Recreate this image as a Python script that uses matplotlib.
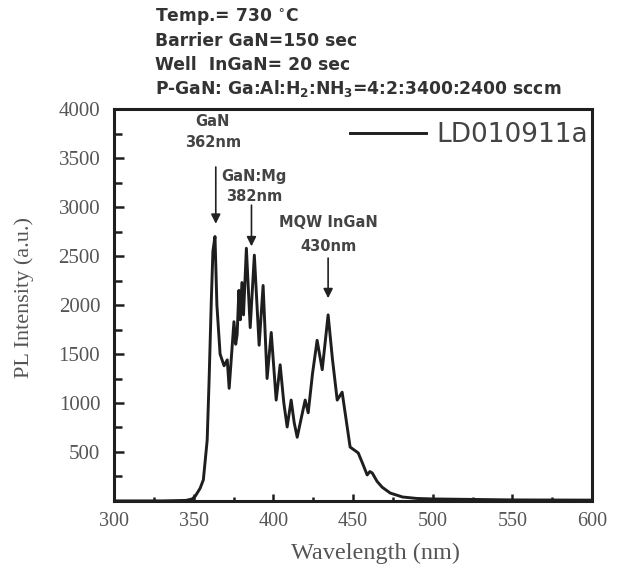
import matplotlib
matplotlib.use("Agg")
import matplotlib.pyplot as plt
from matplotlib.ticker import MultipleLocator, FixedLocator

# PL spectrum of sample LD010911a
wavelength = [300, 330, 345, 349, 351, 354, 356, 358.4, 359.6, 361, 362,
              363.3, 364.5, 366.5, 369, 371, 372.2, 374, 375.2, 376.3, 377.2,
              378.3, 379.2, 380.2, 381.2, 383, 385.4, 388, 391, 393.5,
              396, 398.6, 401.7, 404.2, 406.5, 408.6, 411.1, 413, 414.9,
              417.5, 419.9, 421.8, 424.5, 427.4, 430.6, 434.3, 437, 440,
              443.1, 448.1, 453.2, 456, 458.8, 460.5, 462, 465, 468.2,
              473.3, 481, 490, 500, 550, 600]
intensity = [0, 0, 5, 20, 50, 130, 215, 620, 1230, 2050, 2550,
             2700, 2000, 1500, 1380, 1440, 1150, 1560, 1830, 1600, 1700,
             2150, 1850, 2230, 1900, 2580, 1770, 2510, 1590, 2200,
             1250, 1720, 1030, 1390, 1000, 755, 1030, 800, 650,
             850, 1030, 900, 1300, 1640, 1340, 1900, 1450, 1030,
             1110, 550, 490, 380, 265, 300, 285, 200, 140,
             80, 40, 25, 20, 10, 8]

series_label = "LD010911a"
x_ticks = [300, 350, 400, 450, 500, 550, 600]
y_ticks = [500, 1000, 1500, 2000, 2500, 3000, 3500, 4000]

# Peak annotations: title, wavelength label, text x, title y, label y,
# peak pointed at, arrow start y, arrow tip y
peak_titles = ["GaN", "GaN:Mg", "MQW InGaN"]
peak_labels = ["362nm", "382nm", "430nm"]
text_x = [362, 388, 434.5]
title_y = [3870, 3310, 2840]
label_y = [3660, 3110, 2600]
peak_x = [363.8, 386.2, 434.3]
arrow_from = [3410, 3020, 2480]
arrow_to = [2830, 2600, 2070]

header_lines = [
    "Temp.= 730 $^{\\circ}$C",
    "Barrier GaN=150 sec",
    "Well  InGaN= 20 sec",
    "P-GaN: Ga:Al:H$_{\\mathbf{2}}$:NH$_{\\mathbf{3}}$=4:2:3400:2400 sccm",
]

plt.rcParams["mathtext.fontset"] = "custom"
plt.rcParams["mathtext.rm"] = "DejaVu Sans:bold"
plt.rcParams["mathtext.bf"] = "DejaVu Sans:bold"

fig = plt.figure(figsize=(6.34, 5.66), dpi=100)
ax = fig.add_axes([0.18, 0.115, 0.754, 0.692])

ax.plot(wavelength, intensity, color="#1e1e1e", lw=2.1, label=series_label,
        solid_joinstyle="round")

ax.set_xlim(300, 600)
ax.set_ylim(0, 4000)
ax.xaxis.set_major_locator(FixedLocator(x_ticks))
ax.xaxis.set_minor_locator(MultipleLocator(25))
ax.yaxis.set_major_locator(FixedLocator(y_ticks))
ax.yaxis.set_minor_locator(MultipleLocator(250))

serif = "Liberation Serif"
ax.set_xticklabels([str(v) for v in x_ticks], family=serif, fontsize=14.5, color="#555555")
ax.set_yticklabels([str(v) for v in y_ticks], family=serif, fontsize=15, color="#555555")
ax.tick_params(axis="both", which="both", direction="in", top=False, right=False,
               width=1.8, color="#1e1e1e")
ax.tick_params(axis="x", which="major", length=5, pad=8)
ax.tick_params(axis="x", which="minor", length=3)
ax.tick_params(axis="y", which="major", length=7, pad=10)
ax.tick_params(axis="y", which="minor", length=6)
for sp in ax.spines.values():
    sp.set_linewidth(2.2)
    sp.set_color("#1e1e1e")

ax.set_xlabel("Wavelength (nm)", family=serif, fontsize=17.5, color="#555555")
ax.xaxis.set_label_coords(0.546, -0.107)
ax.set_ylabel("PL Intensity (a.u.)", family=serif, fontsize=16, color="#555555")
ax.yaxis.set_label_coords(-0.168, 0.52)

sans = "DejaVu Sans"
for t, lab, tx, ty, ly, px, y0, y1 in zip(peak_titles, peak_labels, text_x, title_y,
                                          label_y, peak_x, arrow_from, arrow_to):
    ax.text(tx, ty, t, ha="center", va="center", family=sans, fontweight="bold",
            fontsize=10.5, color="#444444")
    ax.text(tx, ly, lab, ha="center", va="center", family=sans, fontweight="bold",
            fontsize=10.5, color="#444444")
    ax.annotate("", xy=(px, y1), xytext=(px, y0),
                arrowprops=dict(arrowstyle="-|>", color="#222222", lw=1.2,
                                mutation_scale=14, shrinkA=0, shrinkB=0))

leg = ax.legend(loc="upper right", bbox_to_anchor=(1.003, 0.981), frameon=False,
                borderaxespad=0, borderpad=0.2,
                handlelength=2.9, handletextpad=0.4,
                prop={"family": sans, "size": 19})
for txt in leg.get_texts():
    txt.set_color("#444444")

for i, line in enumerate(header_lines):
    fig.text(0.245, 0.969 - i * 0.0418, line, ha="left", va="center", family=sans,
             fontweight="bold", fontsize=12.3, color="#333333")

fig.savefig("out.png", dpi=100)
